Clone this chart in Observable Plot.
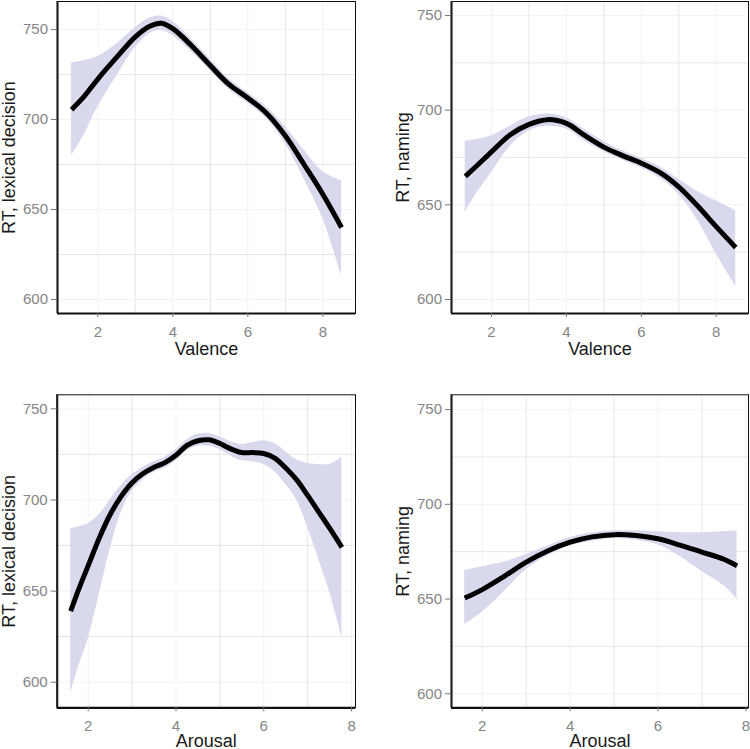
<!DOCTYPE html>
<html>
<head>
<meta charset="utf-8">
<script src="https://cdn.jsdelivr.net/npm/d3@7"></script>
<script src="https://cdn.jsdelivr.net/npm/@observablehq/plot@0.6"></script>
<style>
  html, body { margin: 0; padding: 0; background: #fff; }
  #wrap { position: relative; width: 750px; height: 749px; overflow: hidden; background: #fff; }
  #wrap > div { position: absolute; }
</style>
</head>
<body>
<div id="wrap">
  <div id="p1" style="left:0;top:0"></div>
  <div id="p2" style="left:375px;top:0"></div>
  <div id="p3" style="left:0;top:375px"></div>
  <div id="p4" style="left:375px;top:375px"></div>
</div>
<script>
// ---------- data ----------
const xTicks = [2, 4, 6, 8];
const xMinor = [3, 5, 7];
const yTicks = [600, 650, 700, 750];
const yMinor = [625, 675, 725];

const labelValence = "Valence";
const labelArousal = "Arousal";
const labelLexical = "RT, lexical decision";
const labelNaming = "RT, naming";

// Panel 1: valence vs lexical decision RT
const lexValX   = [1.3, 1.6, 2.0, 2.5, 3.0, 3.4, 3.7, 4.0, 4.5, 5.0, 5.5, 6.0, 6.5, 7.0, 7.5, 8.0, 8.5];
const lexValFit = [705.5, 712, 722.5, 734.5, 746, 752, 753.5, 750.5, 741, 730, 719.5, 712, 703.5, 691, 675, 658.5, 640];
const lexValLo  = [680, 690, 707, 724, 740, 748, 749.5, 746.5, 737.5, 727, 716.5, 709, 700.5, 686.5, 667, 645, 613];
const lexValHi  = [731.5, 732.5, 735, 742, 751, 756.5, 757.5, 754.5, 744.5, 733.5, 722.5, 715, 707, 696, 683, 671, 666];

// Panel 2: valence vs naming RT
const namValX   = [1.3, 1.6, 2.0, 2.5, 3.0, 3.5, 4.0, 4.5, 5.0, 5.5, 6.0, 6.5, 7.0, 7.5, 8.0, 8.52];
const namValFit = [665, 670.5, 678, 687, 692.5, 695, 693, 686.5, 680.5, 676, 672, 667, 659.5, 649.5, 638.5, 627.5];
const namValLo  = [646, 656, 667, 681, 689, 691.5, 690, 683.5, 678, 673.5, 669.5, 664, 655.5, 642, 624, 607];
const namValHi  = [683.5, 684.5, 686.5, 691.5, 696.5, 698, 696, 689.5, 683.5, 678.5, 674.5, 670, 663.5, 657, 652, 647];

// Panel 3: arousal vs lexical decision RT
const lexArX   = [1.6, 1.8, 2.0, 2.25, 2.5, 2.75, 3.0, 3.25, 3.5, 3.75, 4.0, 4.25, 4.5, 4.75, 5.0, 5.25, 5.5, 5.75, 6.0, 6.25, 6.5, 6.75, 7.0, 7.25, 7.5, 7.78];
const lexArFit = [639, 652, 664, 679, 692, 702, 709.5, 714.5, 718, 720.5, 724.5, 730, 732.5, 733, 731, 728, 726, 726, 725.5, 723, 717.5, 711, 702.5, 693.5, 684.5, 674];
const lexArLo  = [594, 610, 624, 648, 673, 693, 705, 711, 715, 717.5, 721.5, 727, 729.5, 729.5, 727.5, 724, 721.5, 721, 719.5, 715.5, 708.5, 700, 685, 667.5, 649.5, 624.5];
const lexArHi  = [684, 685.5, 687, 692, 700, 708, 714, 718, 721, 723.5, 727.5, 733, 736, 736.5, 734.5, 732, 730.5, 731.5, 732.5, 731, 726.5, 722, 720, 719.5, 719.5, 723.5];

// Panel 4: arousal vs naming RT
const namArX   = [1.6, 2.0, 2.5, 3.0, 3.5, 4.0, 4.5, 5.0, 5.5, 6.0, 6.5, 7.0, 7.5, 7.8];
const namArFit = [650.5, 655, 662, 669.5, 675.5, 680, 682.8, 684, 683.5, 681.8, 678.5, 674.8, 671, 667.5];
const namArLo  = [636.5, 643, 654, 665.5, 673, 678, 680.5, 682, 681, 678.5, 672.5, 664.5, 657, 650];
const namArHi  = [665, 667, 669.5, 673.5, 678, 682.5, 685, 686, 686, 685.5, 685, 685, 685.5, 686];

// ---------- helpers ----------
function rows(xs, fit, lo, hi) {
  return xs.map((x, i) => ({x, fit: fit[i], lo: lo[i], hi: hi[i]}));
}

const FONT = "'Liberation Sans', Arial, Helvetica, sans-serif";
const TICK_GRAY = "#858585";

function panel(el, cfg) {
  const data = rows(cfg.xs, cfg.fit, cfg.lo, cfg.hi);
  const chart = Plot.plot({
    width: cfg.width,
    height: cfg.height,
    marginLeft: cfg.ml,
    marginRight: cfg.mr,
    marginTop: cfg.mt,
    marginBottom: cfg.mb,
    style: {fontFamily: FONT, background: "transparent", overflow: "visible"},
    x: {domain: cfg.xDomain, axis: null},
    y: {domain: cfg.yDomain, axis: null},
    marks: [
      Plot.gridX(xTicks, {stroke: "#f3f3f3", strokeOpacity: 1, strokeWidth: 1}),
      Plot.gridY(yTicks, {stroke: "#f3f3f3", strokeOpacity: 1, strokeWidth: 1}),
      Plot.gridX(xMinor, {stroke: "#e6e6e6", strokeOpacity: 1, strokeWidth: 1}),
      Plot.gridY(yMinor, {stroke: "#e6e6e6", strokeOpacity: 1, strokeWidth: 1}),
      Plot.areaY(data, {x: "x", y1: "lo", y2: "hi", fill: "#d9d9ee", fillOpacity: 1, curve: "catmull-rom"}),
      Plot.line(data, {x: "x", y: "fit", stroke: "#000", strokeWidth: 5, curve: "catmull-rom", strokeLinecap: "butt", strokeLinejoin: "round"}),
      Plot.frame({stroke: "#111", strokeWidth: 1}),
      Plot.ruleX([cfg.xDomain[0]], {stroke: "#222", strokeWidth: 2.2}),
      Plot.ruleY([cfg.yDomain[0]], {stroke: "#111", strokeWidth: 2.2}),
      // tick marks
      Plot.axisX(xTicks, {tickSize: 4, tickFormat: () => "", stroke: "#777", label: null}),
      Plot.axisY(yTicks, {tickSize: 6, tickFormat: () => "", stroke: "#777", label: null}),
      // tick labels
      Plot.text(xTicks, {x: d => d, text: d => String(d), frameAnchor: "bottom", lineAnchor: "middle", dy: 18.7, fontSize: 15, fill: TICK_GRAY}),
      Plot.text(yTicks, {y: d => d, text: d => String(d), frameAnchor: "left", lineAnchor: "middle", dx: -9.5, textAnchor: "end", fontSize: 15, fill: TICK_GRAY}),
      // axis titles
      Plot.text([cfg.xLabel], {text: d => d, frameAnchor: "bottom", lineAnchor: "middle", textAnchor: "middle", dy: cfg.xLabelDy, fontSize: 18, fill: "#1a1a1a"}),
      Plot.text([cfg.yLabel], {text: d => d, frameAnchor: "left", lineAnchor: "middle", textAnchor: "middle", dx: -48, rotate: -90, fontSize: 18, fill: "#1a1a1a"})
    ]
  });
  document.getElementById(el).appendChild(chart);
}

panel("p1", {
  xs: lexValX, fit: lexValFit, lo: lexValLo, hi: lexValHi,
  width: 375, height: 375, ml: 57, mr: 20, mt: 1, mb: 62,
  xDomain: [0.925, 8.872], yDomain: [592.2, 765.6],
  xLabel: labelValence, yLabel: labelLexical, xLabelDy: 35.5
});
panel("p2", {
  xs: namValX, fit: namValFit, lo: namValLo, hi: namValHi,
  width: 375, height: 375, ml: 76, mr: 2, mt: 1, mb: 62,
  xDomain: [0.932, 8.862], yDomain: [592.6, 757.4],
  xLabel: labelValence, yLabel: labelNaming, xLabelDy: 35.5
});
panel("p3", {
  xs: lexArX, fit: lexArFit, lo: lexArLo, hi: lexArHi,
  width: 375, height: 374, ml: 56.7, mr: 20, mt: 19.3, mb: 41.7,
  xDomain: [1.293, 8.09], yDomain: [585.96, 757.7],
  xLabel: labelArousal, yLabel: labelLexical, xLabelDy: 33
});
panel("p4", {
  xs: namArX, fit: namArFit, lo: namArLo, hi: namArHi,
  width: 375, height: 374, ml: 76, mr: 2, mt: 19.3, mb: 41.7,
  xDomain: [1.30, 8.06], yDomain: [592.6, 757.8],
  xLabel: labelArousal, yLabel: labelNaming, xLabelDy: 33
});
</script>
</body>
</html>
